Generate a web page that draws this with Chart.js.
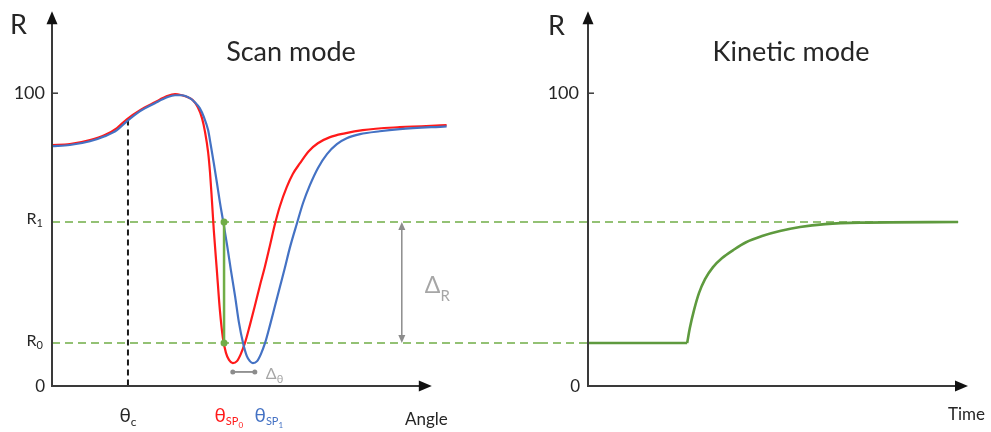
<!DOCTYPE html>
<html>
<head>
<meta charset="utf-8">
<script src="https://cdn.jsdelivr.net/npm/chart.js@4.4.1/dist/chart.umd.min.js"></script>
<style>
  body { margin: 0; background: #fff; width: 991px; height: 432px; overflow: hidden; position: relative; }
  #scanChart { position: absolute; left: 0; top: 0; }
  #kineticChart { position: absolute; left: 540px; top: 0; }
</style>
</head>
<body>
<canvas id="scanChart" width="540" height="432"></canvas>
<canvas id="kineticChart" width="451" height="432"></canvas>
<script>
// scan mode curves (angle, reflectivity)
const angleRed = [0, 4.7, 10.0, 13.9, 17.1, 19.7, 23.2, 27.1, 30.3, 32.4, 34.2, 35.8, 37.1, 38.4, 39.5, 40.3, 41.1, 41.6, 42.1, 42.6, 43.4, 44.2, 45.0, 45.8, 46.6, 47.6, 48.7, 49.7, 50.8, 52.1, 53.4, 54.7, 56.1, 57.4, 58.7, 60.0, 61.8, 63.4, 65.3, 67.6, 70.0, 73.2, 77.1, 81.8, 91.6, 103.9];
const reflRed  = [82.3, 82.6, 84.0, 85.7, 88.1, 91.1, 94.2, 96.9, 99.0, 99.7, 99.3, 98.6, 97.6, 95.2, 91.5, 86.7, 79.9, 73.0, 63.5, 53.2, 39.6, 25.9, 16.4, 11.3, 8.9, 7.8, 8.5, 10.9, 14.7, 20.8, 27.3, 34.1, 41.0, 48.1, 55.3, 61.4, 67.9, 72.4, 76.1, 80.2, 82.9, 85.0, 86.3, 87.4, 88.4, 89.1];
const angleBlue = [0, 4.7, 10.0, 13.9, 17.1, 19.7, 23.2, 27.1, 30.3, 32.4, 34.2, 36.3, 37.6, 38.9, 40.0, 41.1, 41.8, 42.6, 43.4, 44.2, 45.0, 46.1, 47.1, 48.2, 49.2, 50.3, 51.3, 52.1, 52.9, 54.0, 55.0, 56.1, 57.4, 58.7, 60.0, 61.3, 62.6, 64.5, 66.1, 67.9, 70.0, 72.4, 75.0, 77.6, 81.1, 86.3, 91.6, 103.9];
const reflBlue  = [81.9, 82.3, 83.6, 85.3, 87.4, 90.4, 93.9, 96.6, 98.6, 99.3, 99.3, 98.3, 96.9, 94.9, 91.8, 87.4, 82.3, 76.1, 69.6, 62.8, 56.7, 48.1, 39.6, 30.7, 21.8, 14.7, 10.2, 8.5, 7.8, 8.5, 10.9, 14.7, 20.8, 27.3, 33.8, 40.3, 47.1, 55.6, 62.5, 68.6, 74.4, 79.2, 82.6, 84.6, 86.0, 87.0, 87.7, 88.7];

// kinetic mode curve (time, reflectivity)
const timeBase = [0, 26.1];
const reflBase = [14.7, 14.7];
const timeRise = [26.1, 26.8, 27.9, 29.2, 30.8, 32.9, 35.3, 38.2, 41.6, 45.8, 50.5, 55.8, 62.4, 71.6, 97.4];
const reflRise = [14.7, 19.8, 25.9, 31.7, 36.5, 40.6, 43.7, 46.4, 49.1, 51.2, 52.9, 54.3, 55.3, 55.8, 56.0];

// levels and markers
const levelR0 = 14.7;
const levelR1 = 56.0;
const thetaC = 20;
const thetaCTop = 91.0;
const markerAngle = 45.3;
const deltaRAngle = 92.1;
const deltaThetaFrom = 47.6;
const deltaThetaTo = 53.4;
const deltaThetaLevel = 4.8;
const yTicks = [0, 100];

const FONT = "Lato, 'Open Sans', sans-serif";
const TEXT = '#262626';
const AXIS = '#3a3a3a';
const GREEN_DASH = '#70ad47';
const GREEN = '#5e9a3e';
const GRAY = '#8c8c8c';

function pts(xs, ys) {
    return xs.map(function (x, i) { return { x: x, y: ys[i] }; });
}

function rich(ctx, x, y, parts, align) {
    let w = 0;
    parts.forEach(function (p) {
        ctx.font = p.size + 'px ' + FONT;
        p.w = ctx.measureText(p.t).width;
        w += p.w;
    });
    let cx = align == 'center' ? x - w / 2 : (align == 'right' ? x - w : x);
    ctx.textAlign = 'left';
    ctx.textBaseline = 'alphabetic';
    parts.forEach(function (p) {
        ctx.font = p.size + 'px ' + FONT;
        ctx.fillStyle = p.color || TEXT;
        ctx.fillText(p.t, cx, y + (p.dy || 0));
        cx += p.w;
    });
}

function arrowHead(ctx, x, y, dx, dy, len, half) {
    // tip at (x,y), pointing along (dx,dy)
    ctx.beginPath();
    ctx.moveTo(x, y);
    ctx.lineTo(x - dx * len - dy * half, y - dy * len + dx * half);
    ctx.lineTo(x - dx * len + dy * half, y - dy * len - dx * half);
    ctx.closePath();
    ctx.fill();
}

function line(ctx, x0, y0, x1, y1, color, width, dash) {
    ctx.save();
    ctx.strokeStyle = color;
    ctx.lineWidth = width;
    ctx.setLineDash(dash || []);
    ctx.beginPath();
    ctx.moveTo(x0, y0);
    ctx.lineTo(x1, y1);
    ctx.stroke();
    ctx.restore();
}

function drawAxes(chart, xEnd) {
    const ctx = chart.ctx;
    const xs = chart.scales.x, ys = chart.scales.y;
    const x0 = xs.getPixelForValue(0), y0 = ys.getPixelForValue(0);
    const yTop = ys.getPixelForValue(128);
    const xRight = xs.getPixelForValue(xEnd);
    ctx.save();
    line(ctx, x0, y0 + 1, x0, yTop + 10, AXIS, 2);
    line(ctx, x0 - 1, y0, xRight - 10, y0, AXIS, 2);
    ctx.fillStyle = '#111';
    arrowHead(ctx, x0, yTop, 0, -1, 13, 5.5);
    arrowHead(ctx, xRight, y0, 1, 0, 13, 5.5);
    // tick at 100
    const y100 = ys.getPixelForValue(yTicks[1]);
    line(ctx, x0, y100, x0 + 6, y100, AXIS, 1.5);
    ctx.restore();
}

const scanDecor = {
    id: 'scanDecor',
    beforeDatasetsDraw(chart) {
        const ctx = chart.ctx;
        const xs = chart.scales.x, ys = chart.scales.y;
        const x0 = xs.getPixelForValue(0);
        [levelR1, levelR0].forEach(function (v) {
            const y = ys.getPixelForValue(v);
            line(ctx, x0, y, chart.width, y, GREEN_DASH, 1.6, [8, 5]);
        });
        // critical angle
        const xc = xs.getPixelForValue(thetaC);
        line(ctx, xc, ys.getPixelForValue(thetaCTop), xc, ys.getPixelForValue(0), '#1a1a1a', 2, [6, 4]);
    },
    afterDatasetsDraw(chart) {
        const ctx = chart.ctx;
        const xs = chart.scales.x, ys = chart.scales.y;
        const yR1 = ys.getPixelForValue(levelR1), yR0 = ys.getPixelForValue(levelR0);

        // green marker between R1 and R0
        const xm = xs.getPixelForValue(markerAngle);
        line(ctx, xm, yR1, xm, yR0, GREEN_DASH, 2.5);
        ctx.fillStyle = GREEN_DASH;
        [yR1, yR0].forEach(function (y) {
            ctx.beginPath(); ctx.arc(xm, y, 3.5, 0, Math.PI * 2); ctx.fill();
        });

        // delta R arrow
        const xd = xs.getPixelForValue(deltaRAngle);
        line(ctx, xd, yR1 + 6, xd, yR0 - 6, GRAY, 1.5);
        ctx.fillStyle = GRAY;
        arrowHead(ctx, xd, yR1, 0, -1, 8, 3.5);
        arrowHead(ctx, xd, yR0, 0, 1, 8, 3.5);
        rich(ctx, xd + 23, (yR1 + yR0) / 2 + 11, [
            { t: 'Δ', size: 23, color: '#a6a6a6' },
            { t: 'R', size: 15, color: '#a6a6a6', dy: 8 }
        ], 'left');

        // delta theta arrow
        const yt = ys.getPixelForValue(deltaThetaLevel);
        const xa = xs.getPixelForValue(deltaThetaFrom), xb = xs.getPixelForValue(deltaThetaTo);
        line(ctx, xa, yt, xb, yt, GRAY, 1.8);
        ctx.fillStyle = GRAY;
        [xa, xb].forEach(function (x) {
            ctx.beginPath(); ctx.arc(x, yt, 2.5, 0, Math.PI * 2); ctx.fill();
        });
        rich(ctx, xb + 11, yt + 7, [
            { t: 'Δ', size: 16, color: '#a6a6a6' },
            { t: 'θ', size: 11, color: '#a6a6a6', dy: 4 }
        ], 'left');

        drawAxes(chart, 100);

        // labels
        const x0 = xs.getPixelForValue(0);
        rich(ctx, 10, 34, [{ t: 'R', size: 27 }], 'left');
        rich(ctx, x0 - 7, ys.getPixelForValue(yTicks[1]) + 6, [{ t: '100', size: 18 }], 'right');
        rich(ctx, x0 - 7, ys.getPixelForValue(yTicks[0]) + 6, [{ t: '0', size: 17 }], 'right');
        rich(ctx, x0 - 9, yR1 + 2, [{ t: 'R', size: 16 }, { t: '1', size: 11, dy: 3 }], 'right');
        rich(ctx, x0 - 9, yR0 + 3, [{ t: 'R', size: 16 }, { t: '0', size: 11, dy: 3 }], 'right');

        const yLab = 422;
        rich(ctx, xs.getPixelForValue(thetaC), yLab, [{ t: 'θ', size: 19 }, { t: 'c', size: 12, dy: 4 }], 'center');
        rich(ctx, xs.getPixelForValue(deltaThetaFrom) - 4, yLab, [
            { t: 'θ', size: 19, color: '#ff1a1a' },
            { t: 'SP', size: 11, color: '#ff1a1a', dy: 3 },
            { t: '0', size: 8, color: '#ff1a1a', dy: 6 }
        ], 'center');
        rich(ctx, xs.getPixelForValue(deltaThetaTo) + 14, yLab, [
            { t: 'θ', size: 19, color: '#4472c4' },
            { t: 'SP', size: 11, color: '#4472c4', dy: 3 },
            { t: '1', size: 8, color: '#4472c4', dy: 6 }
        ], 'center');
        rich(ctx, 405, 425, [{ t: 'Angle', size: 17 }], 'left');
        rich(ctx, 291, 61, [{ t: 'Scan mode', size: 27 }], 'center');
    }
};

const kineticDecor = {
    id: 'kineticDecor',
    beforeDatasetsDraw(chart) {
        const ctx = chart.ctx;
        const xs = chart.scales.x, ys = chart.scales.y;
        const yR1 = ys.getPixelForValue(levelR1), yR0 = ys.getPixelForValue(levelR0);
        line(ctx, 0, yR1, xs.getPixelForValue(timeRise[timeRise.length - 1]), yR1, GREEN_DASH, 1.6, [8, 5]);
        line(ctx, 0, yR0, xs.getPixelForValue(0), yR0, GREEN_DASH, 1.6, [8, 5]);
    },
    afterDatasetsDraw(chart) {
        const ctx = chart.ctx;
        const xs = chart.scales.x, ys = chart.scales.y;
        drawAxes(chart, 100);
        const x0 = xs.getPixelForValue(0);
        rich(ctx, 8, 35, [{ t: 'R', size: 27 }], 'left');
        rich(ctx, x0 - 9, ys.getPixelForValue(yTicks[1]) + 6, [{ t: '100', size: 18 }], 'right');
        rich(ctx, x0 - 8, ys.getPixelForValue(yTicks[0]) + 6, [{ t: '0', size: 17 }], 'right');
        rich(ctx, 408, 420, [{ t: 'Time', size: 17 }], 'left');
        rich(ctx, 251, 61, [{ t: 'Kinetic mode', size: 27 }], 'center');
    }
};

new Chart(document.getElementById('scanChart'), {
    type: 'line',
    data: {
        datasets: [
            { data: pts(angleBlue, reflBlue), borderColor: '#4472c4', borderWidth: 2.2, pointRadius: 0, cubicInterpolationMode: 'monotone' },
            { data: pts(angleRed, reflRed), borderColor: '#ff1a1a', borderWidth: 2.2, pointRadius: 0, cubicInterpolationMode: 'monotone' }
        ]
    },
    options: {
        responsive: false,
        animation: false,
        layout: { padding: { left: 52, right: 93, top: 20, bottom: 46 } },
        scales: {
            x: { type: 'linear', min: 0, max: 104, display: false },
            y: { min: 0, max: 125, display: false }
        },
        plugins: { legend: { display: false }, tooltip: { enabled: false } }
    },
    plugins: [scanDecor]
});

new Chart(document.getElementById('kineticChart'), {
    type: 'line',
    data: {
        datasets: [
            { data: pts(timeBase, reflBase), borderColor: GREEN, borderWidth: 2.6, pointRadius: 0, tension: 0 },
            { data: pts(timeRise, reflRise), borderColor: GREEN, borderWidth: 2.6, pointRadius: 0, cubicInterpolationMode: 'monotone' }
        ]
    },
    options: {
        responsive: false,
        animation: false,
        layout: { padding: { left: 48, right: 23, top: 20, bottom: 46 } },
        scales: {
            x: { type: 'linear', min: 0, max: 100, display: false },
            y: { min: 0, max: 125, display: false }
        },
        plugins: { legend: { display: false }, tooltip: { enabled: false } }
    },
    plugins: [kineticDecor]
});
</script>
</body>
</html>
